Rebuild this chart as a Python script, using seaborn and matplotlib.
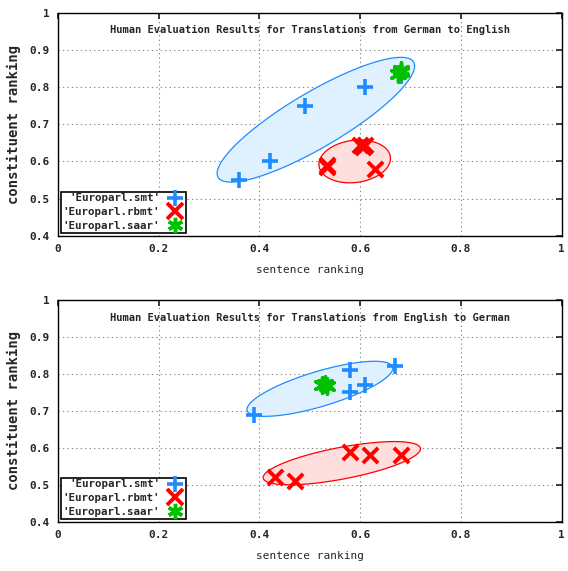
import numpy as np
import pandas as pd
import matplotlib
matplotlib.use("Agg")
import matplotlib.pyplot as plt
import seaborn as sns
from matplotlib.lines import Line2D

# German -> English
de_en_smt_x = [0.36, 0.42, 0.49, 0.61, 0.68]
de_en_smt_y = [0.55, 0.60, 0.75, 0.80, 0.83]
de_en_rbmt_x = [0.535, 0.535, 0.60, 0.605, 0.61, 0.63]
de_en_rbmt_y = [0.59, 0.585, 0.645, 0.64, 0.645, 0.58]
de_en_saar_x = [0.675, 0.68, 0.68]
de_en_saar_y = [0.835, 0.84, 0.845]

# English -> German
en_de_smt_x = [0.39, 0.58, 0.58, 0.61, 0.67]
en_de_smt_y = [0.69, 0.81, 0.75, 0.77, 0.82]
en_de_rbmt_x = [0.43, 0.47, 0.58, 0.62, 0.68]
en_de_rbmt_y = [0.52, 0.51, 0.59, 0.58, 0.58]
en_de_saar_x = [0.525, 0.53, 0.535]
en_de_saar_y = [0.77, 0.772, 0.768]

# cluster ellipses: centre, half-axis vectors (data units)
de_en_blue = [(0.512, 0.712), (0.194, 0.155), (-0.028, 0.064)]
de_en_red = [(0.589, 0.600), (0.071, 0.008), (0.0, 0.057)]
en_de_blue = [(0.52, 0.7595), (0.1444, 0.0589), (-0.010, 0.0454)]
en_de_red = [(0.5635, 0.5586), (0.156, 0.0405), (-0.006, 0.042)]

titles = ["Human Evaluation Results for Translations from German to English",
          "Human Evaluation Results for Translations from English to German"]
labels = ["'Europarl.smt'", "'Europarl.rbmt'", "'Europarl.saar'"]

BLUE = "#1e8cff"
RED = "#ff0000"
GREEN = "#00c000"
MONO = "DejaVu Sans Mono"


def draw_ellipse(ax, ell, edge, face):
    c, a, b = ell
    t = np.linspace(0, 2 * np.pi, 200)
    xs = c[0] + a[0] * np.cos(t) + b[0] * np.sin(t)
    ys = c[1] + a[1] * np.cos(t) + b[1] * np.sin(t)
    ax.fill(xs, ys, facecolor=face, edgecolor=edge, linewidth=0.9, zorder=1)


def panel(ax, title, smt, rbmt, saar, blue_ell, red_ell):
    draw_ellipse(ax, blue_ell, BLUE, "#dff0ff")
    draw_ellipse(ax, red_ell, RED, "#ffdede")
    df_s = pd.DataFrame({"x": smt[0], "y": smt[1]})
    df_r = pd.DataFrame({"x": rbmt[0], "y": rbmt[1]})
    df_a = pd.DataFrame({"x": saar[0], "y": saar[1]})
    sns.scatterplot(data=df_s, x="x", y="y", marker="+", s=135, linewidth=2.6,
                    color=BLUE, ax=ax, zorder=3)
    sns.scatterplot(data=df_r, x="x", y="y", marker="x", s=120, linewidth=2.8,
                    color=RED, ax=ax, zorder=3)
    sns.scatterplot(data=df_a, x="x", y="y", marker=(6, 2, 0), s=120, linewidth=2.5,
                    color=GREEN, ax=ax, zorder=4)
    ax.set_xlim(0, 1)
    ax.set_ylim(0.4, 1)
    ax.set_xticks([0, 0.2, 0.4, 0.6, 0.8, 1])
    ax.set_xticklabels(["0", "0.2", "0.4", "0.6", "0.8", "1"])
    ax.set_yticks([0.4, 0.5, 0.6, 0.7, 0.8, 0.9, 1])
    ax.set_yticklabels(["0.4", "0.5", "0.6", "0.7", "0.8", "0.9", "1"])
    for lab in ax.get_xticklabels() + ax.get_yticklabels():
        lab.set_family(MONO)
        lab.set_fontweight("bold")
        lab.set_fontsize(8)
    ax.grid(True, linestyle=(0, (1.2, 2.8)), color="#888888", linewidth=0.8)
    ax.tick_params(length=4, direction="in", pad=6, top=True, right=True)
    for sp in ax.spines.values():
        sp.set_color("black")
        sp.set_linewidth(1.0)
    ax.set_xlabel("sentence ranking", family=MONO, fontsize=8, labelpad=8)
    ax.set_ylabel("constituent ranking", family=MONO, fontsize=10,
                  fontweight="bold", labelpad=6)
    ax.text(0.5, 0.92, title, transform=ax.transAxes, ha="center", va="center",
            family=MONO, fontsize=7.5, fontweight="bold")
    handles = [
        Line2D([], [], marker="+", color=BLUE, ls="none", ms=12, mew=2.6),
        Line2D([], [], marker="x", color=RED, ls="none", ms=11, mew=2.8),
        Line2D([], [], marker=(6, 2, 0), color=GREEN, ls="none", ms=11, mew=2.5),
    ]
    leg = ax.legend(handles, labels, loc="lower left", markerfirst=False,
                    fancybox=False, framealpha=1, edgecolor="black",
                    borderaxespad=0.3, handlelength=1.6, handletextpad=0.6,
                    labelspacing=0.35, borderpad=0.15,
                    prop={"family": MONO, "size": 7.8, "weight": "bold"})
    leg.get_frame().set_linewidth(1.2)
    for txt in leg.get_texts():
        txt.set_ha("right")


sns.set_theme(style="white")
fig = plt.figure(figsize=(5.68, 5.71), dpi=100)
ax1 = fig.add_axes([0.102, 0.587, 0.887, 0.391])
ax2 = fig.add_axes([0.102, 0.086, 0.887, 0.389])

panel(ax1, titles[0], (de_en_smt_x, de_en_smt_y), (de_en_rbmt_x, de_en_rbmt_y),
      (de_en_saar_x, de_en_saar_y), de_en_blue, de_en_red)
panel(ax2, titles[1], (en_de_smt_x, en_de_smt_y), (en_de_rbmt_x, en_de_rbmt_y),
      (en_de_saar_x, en_de_saar_y), en_de_blue, en_de_red)

fig.savefig("out.png", dpi=100)
